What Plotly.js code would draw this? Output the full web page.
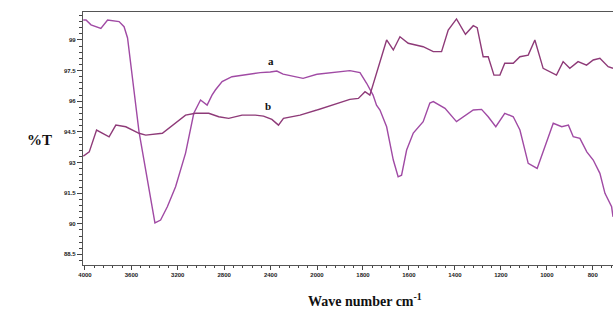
<!DOCTYPE html>
<html><head><meta charset="utf-8">
<script src="https://cdn.plot.ly/plotly-3.0.1.min.js"></script>
<style>html,body{margin:0;padding:0;background:#fff;}#chart{width:613px;height:322px;}</style>
</head><body><div id="chart"></div>
<script>
// Spectrum a (wavenumber cm-1, %T)
const waveA = [4015,3991,3948,3863,3805,3706,3663,3633,3534,3397,3348,3290,3219,3133,3062,3004,2947,2905,2876,2818,2733,2646,2560,2489,2403,2346,2292,2120,2000,1930,1857,1813,1784,1756,1741,1726,1697,1668,1647,1632,1610,1581,1538,1509,1494,1443,1393,1320,1284,1255,1222,1183,1146,1117,1081,1042,1008,972,935,906,885,856,826,798,769,747,718,712];
const tA    = [99.98,99.98,99.74,99.57,99.98,99.90,99.65,99.10,94.50,90.04,90.18,90.83,91.81,93.46,95.41,96.06,95.81,96.30,96.55,96.96,97.20,97.28,97.37,97.40,97.43,97.48,97.33,97.12,97.32,97.42,97.50,97.40,96.88,96.30,95.81,95.57,94.75,93.12,92.30,92.38,93.61,94.44,95.00,95.91,95.98,95.65,95.00,95.57,95.60,95.24,94.75,95.41,95.24,94.59,92.96,92.71,93.77,94.92,94.75,94.83,94.26,94.18,93.52,93.12,92.47,91.49,90.83,90.34];
// Spectrum b
const waveB = [4015,3963,3900,3792,3734,3648,3534,3476,3333,3247,3191,3133,3047,2933,2847,2761,2646,2532,2461,2389,2332,2289,2146,2000,1929,1857,1820,1791,1770,1697,1668,1639,1603,1538,1494,1458,1429,1393,1354,1320,1303,1277,1255,1230,1204,1183,1146,1117,1081,1052,1016,958,929,900,864,827,798,769,733,712];
const tB    = [93.31,93.52,94.59,94.26,94.83,94.75,94.43,94.34,94.43,94.83,95.08,95.32,95.41,95.41,95.24,95.16,95.32,95.32,95.27,95.11,94.83,95.16,95.32,95.57,95.81,96.09,96.14,96.47,96.30,99.00,98.51,99.16,98.84,98.67,98.43,98.43,99.49,100.03,99.28,99.70,99.60,98.18,98.18,97.28,97.28,97.86,97.86,98.18,98.26,99.00,97.61,97.28,97.94,97.61,97.94,97.77,98.02,98.10,97.69,97.61];
const yTicks = [88.5,90,91.5,93,94.5,96,97.5,99];
const xTicks1 = [4000,3600,3200,2800,2400,2000];
const xTicks2 = [1800,1600,1400,1200,1000,800];
const labels = ['a','b'];
const colorA = '#a04aa4', colorB = '#8e3a78';

function seg(w, t, hi){
  const xs=[], ys=[];
  for(let i=0;i<w.length;i++){
    if(hi ? w[i]>=2000 : w[i]<=2000){ xs.push(w[i]); ys.push(t[i]); }
  }
  return {xs, ys};
}
const traces=[];
[[waveA,tA,colorA],[waveB,tB,colorB]].forEach(([w,t,c])=>{
  const s1=seg(w,t,true), s2=seg(w,t,false);
  traces.push({x:s1.xs,y:s1.ys,xaxis:'x',yaxis:'y',mode:'lines',line:{color:c,width:1.4},showlegend:false,hoverinfo:'skip'});
  traces.push({x:s2.xs,y:s2.ys,xaxis:'x2',yaxis:'y',mode:'lines',line:{color:c,width:1.4},showlegend:false,hoverinfo:'skip'});
});

const split = (317-83)/530;
const tickFont = {family:'Liberation Sans, Arial, sans-serif', size:6, color:'#222', weight:'bold'};
const axisCommon = {showgrid:false, zeroline:false, showline:true, linecolor:'#555', linewidth:1.2,
  ticks:'outside', ticklen:4, tickcolor:'#444', tickfont:tickFont, mirror:true};

const layout = {
  width:613, height:322,
  margin:{l:83, r:0, t:12, b:57},
  paper_bgcolor:'#fff', plot_bgcolor:'#fff',
  xaxis: Object.assign({}, axisCommon, {domain:[0,split], range:[4017,2000], anchor:'y',
    tickmode:'array', tickvals:xTicks1, ticktext:xTicks1.map(String),
    minor:{dtick:80, tick0:0, ticks:'outside', ticklen:2, tickcolor:'#444'}}),
  xaxis2: Object.assign({}, axisCommon, {domain:[split,1], range:[2000,712], anchor:'y',
    tickmode:'array', tickvals:xTicks2, ticktext:xTicks2.map(String),
    minor:{dtick:40, tick0:0, ticks:'outside', ticklen:2, tickcolor:'#444'}}),
  yaxis: Object.assign({}, axisCommon, {range:[87.98,100.37], mirror:false, ticklen:5,
    tickmode:'array', tickvals:yTicks, ticktext:yTicks.map(String),
    minor:{dtick:0.3, tick0:0, ticks:'outside', ticklen:3, tickcolor:'#444'}}),
  annotations:[
    {xref:'x', yref:'y', x:2395, y:97.97, text:labels[0], showarrow:false, font:{family:'Liberation Serif, Times New Roman, serif', size:11, color:'#111', weight:'bold'}},
    {xref:'x', yref:'y', x:2421, y:95.76, text:labels[1], showarrow:false, font:{family:'Liberation Serif, Times New Roman, serif', size:11, color:'#111', weight:'bold'}},
    {xref:'paper', yref:'paper', x:(25-83)/530, y:(265-140)/253, text:'%T', showarrow:false, font:{family:'Liberation Serif, Times New Roman, serif', size:15, color:'#111', weight:'bold'}},
    {xref:'paper', yref:'paper', x:(365-83)/530, y:(265-311)/253, text:'Wave number cm<sup>-1</sup>', showarrow:false, font:{family:'Liberation Serif, Times New Roman, serif', size:14, color:'#111', weight:'bold'}}
  ]
};
Plotly.newPlot('chart', traces, layout, {staticPlot:true, displayModeBar:false});
</script></body></html>
